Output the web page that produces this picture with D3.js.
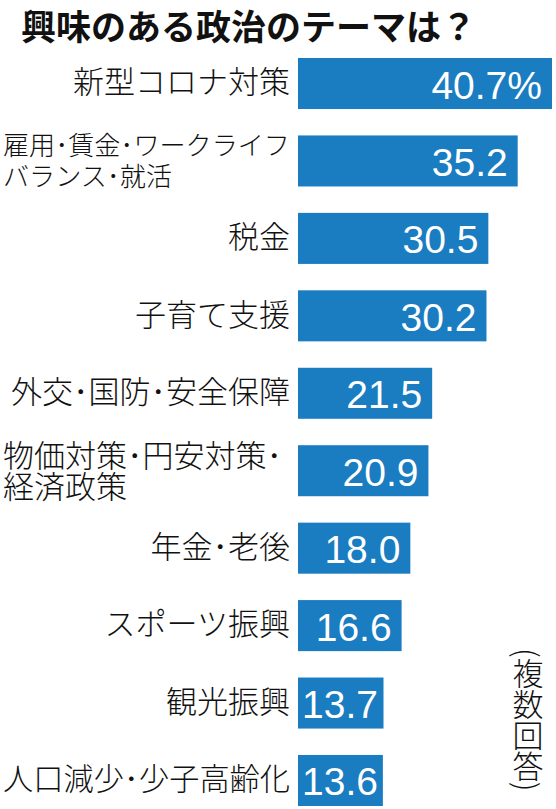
<!DOCTYPE html>
<html>
<head>
<meta charset="utf-8">
<script src="https://cdn.jsdelivr.net/npm/d3@7"></script>
<style>
body { margin: 0; background: #fff; }
</style>
</head>
<body>
<div id="chart"></div>
<script>
var title = "興味のある政治のテーマは？";
var note = "(複数回答)";
var categories = [
	"新型コロナ対策",
	"雇用・賃金・ワークライフ\nバランス・就活",
	"税金",
	"子育て支援",
	"外交・国防・安全保障",
	"物価対策・円安対策・\n経済政策",
	"年金・老後",
	"スポーツ振興",
	"観光振興",
	"人口減少・少子高齢化"
];
var values = [40.7, 35.2, 30.5, 30.2, 21.5, 20.9, 18.0, 16.6, 13.7, 13.6];

var W = 556, H = 809;
var barLeft = 298;
var labelRight = 290, labelLeft = 3;
var labelFont = "'Noto Sans CJK JP', sans-serif";
var labelSize = 31;

var svg = d3.select("#chart").append("svg")
	.attr("width", W)
	.attr("height", H);

var x = d3.scaleLinear()
	.domain([0, d3.max(values)])
	.range([barLeft, 552]);

var y = d3.scaleBand()
	.domain(categories)
	.range([58, 806])
	.paddingInner(0.341)
	.paddingOuter(0);

// title
svg.append("text")
	.attr("x", 21)
	.attr("y", 40)
	.attr("font-family", labelFont)
	.attr("font-weight", "bold")
	.attr("font-size", 35)
	.attr("fill", "#111")
	.text(title);

var rows = svg.selectAll("g.row").data(categories)
	.enter().append("g")
	.attr("class", "row");

rows.append("rect")
	.attr("x", x(0))
	.attr("y", function(d){ return y(d); })
	.attr("width", function(d, i){ return x(values[i]) - x(0); })
	.attr("height", y.bandwidth())
	.attr("fill", "#1a7cc1");

// category labels, set smaller when they run too long
rows.each(function(d){
	var g = d3.select(this);
	var lines = d.split("\n");
	var cy = y(d) + y.bandwidth() / 2;
	var t = g.append("text")
		.attr("font-family", labelFont)
		.attr("font-weight", 300)
		.attr("font-size", labelSize)
		.attr("fill", "#111");
	lines.forEach(function(line){
		t.append("tspan")
			.attr("x", 0)
			.text(line.replace(/・/g, "･"));
	});
	var w = t.node().getBBox().width;
	var fs = labelSize * Math.min(1, (labelRight - labelLeft) / w);
	t.attr("font-size", fs);
	w = t.node().getBBox().width;
	var x0 = lines.length > 1 ? labelLeft : labelRight - w;
	t.selectAll("tspan")
		.attr("x", x0)
		.attr("y", function(s, j){
			var c = lines.length > 1 ? cy + (j - 0.5) * 31 : cy - 2;
			return c + 0.38 * fs;
		});
});

// values inside the bars
rows.append("text")
	.attr("font-family", "'Liberation Sans', Arial, sans-serif")
	.attr("font-size", 39)
	.attr("fill", "#fff")
	.attr("text-anchor", "end")
	.attr("y", function(d){ return y(d) + y.bandwidth() / 2 + 15; })
	.text(function(d, i){ return i === 0 ? values[i].toFixed(1) + "%" : values[i].toFixed(1); })
	.attr("x", function(d, i){
		var tw = this.getComputedTextLength();
		return Math.max(x(values[i]) - 10, x(0) + 4 + tw);
	});

// vertical note
svg.append("text")
	.attr("x", 528)
	.attr("y", 648)
	.attr("font-family", labelFont)
	.attr("font-weight", 300)
	.attr("font-size", 31)
	.attr("fill", "#111")
	.style("writing-mode", "vertical-rl")
	.text(note);
</script>
</body>
</html>
